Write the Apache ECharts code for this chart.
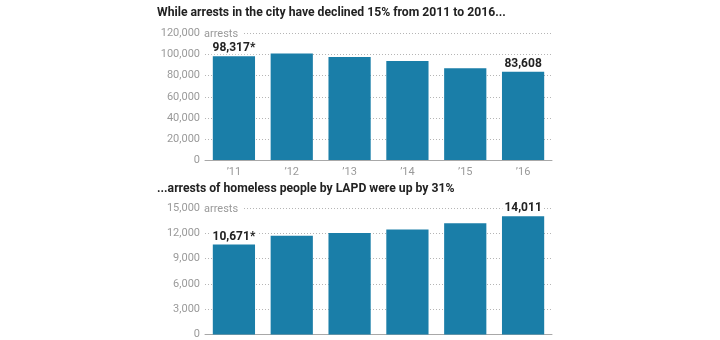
<!DOCTYPE html>
<html>
<head>
<meta charset="utf-8">
<style>
  html, body { margin: 0; padding: 0; background: #fff; }
  #chart { width: 720px; height: 340px; }
</style>
<script src="https://cdn.jsdelivr.net/npm/echarts@6/dist/echarts.min.js"></script>
</head>
<body>
<div id="chart"></div>
<script>
// Years shown on both panels
const years = ['’11', '’12', '’13', '’14', '’15', '’16'];

// Total arrests in the city
const cityArrests = [98317, 101000, 97700, 94000, 87000, 83608];
const cityLabels = ['98,317*', '', '', '', '', '83,608'];
const cityTicks = { min: 0, max: 120000, interval: 20000 };

// Arrests of homeless people by LAPD
const homelessArrests = [10671, 11700, 12050, 12450, 13200, 14011];
const homelessLabels = ['10,671*', '', '', '', '', '14,011'];
const homelessTicks = { min: 0, max: 15000, interval: 3000 };

const titles = [
  'While arrests in the city have declined 15% from 2011 to 2016...',
  '...arrests of homeless people by LAPD were up by 31%'
];
const unit = 'arrests';

const BAR = '#1a7ea8';
const GRAY = '#9a9a9a';
const INK = '#222';
const FONT = 'Roboto, "Liberation Sans", sans-serif';

function withLabels(values, labels) {
  return values.map((v, i) => labels[i]
    ? { value: v, label: { show: true, formatter: labels[i] } }
    : v);
}

function yAxisFor(ticks, gridIndex) {
  return {
    type: 'value',
    gridIndex,
    min: ticks.min,
    max: ticks.max,
    interval: ticks.interval,
    axisLine: { show: false },
    axisTick: { show: false },
    axisLabel: {
      color: GRAY, fontFamily: FONT, fontSize: 11, margin: 5,
      formatter: v => v.toLocaleString('en-US')
    },
    splitLine: { lineStyle: { color: '#b5b5b5', width: 1, type: [1, 2] } }
  };
}

function xAxisFor(gridIndex) {
  return {
    type: 'category',
    gridIndex,
    data: years,
    axisLine: { lineStyle: { color: '#a8a8a8', width: 1 } },
    axisTick: { show: false },
    axisLabel: { color: GRAY, fontFamily: FONT, fontSize: 11, margin: 7 }
  };
}

const barLabel = {
  show: false,
  position: 'top',
  distance: 2,
  color: INK,
  fontFamily: FONT,
  fontWeight: 'bold',
  fontSize: 12,
  backgroundColor: '#fff',
  padding: [0, 2, 0, 2]
};

const chart = echarts.init(document.getElementById('chart'), null, { renderer: 'canvas' });

chart.setOption({
  animation: false,
  backgroundColor: '#fff',
  title: titles.map((t, i) => ({
    text: t,
    left: 157,
    top: i === 0 ? 7 : 183,
    padding: 0,
    textStyle: { color: INK, fontFamily: FONT, fontWeight: 'bold', fontSize: 12.2 }
  })),
  grid: [
    { left: 205, right: 168, top: 33.5, height: 126.5, outerBoundsMode: 'none', containLabel: false },
    { left: 205, right: 168, top: 208, height: 126.5, outerBoundsMode: 'none', containLabel: false }
  ],
  xAxis: [xAxisFor(0), xAxisFor(1)],
  yAxis: [yAxisFor(cityTicks, 0), yAxisFor(homelessTicks, 1)],
  series: [
    {
      type: 'bar', xAxisIndex: 0, yAxisIndex: 0,
      barWidth: '73%',
      itemStyle: { color: BAR },
      label: barLabel,
      data: withLabels(cityArrests, cityLabels)
    },
    {
      type: 'bar', xAxisIndex: 1, yAxisIndex: 1,
      barWidth: '73%',
      itemStyle: { color: BAR },
      label: barLabel,
      data: withLabels(homelessArrests, homelessLabels)
    }
  ]
});

// Unit word next to the top tick of each panel, masking the dotted line behind it
const unitAnchors = [
  { yAxisIndex: 0, value: cityTicks.max },
  { yAxisIndex: 1, value: homelessTicks.max }
];
chart.setOption({
  graphic: unitAnchors.map(a => {
    const y = chart.convertToPixel({ yAxisIndex: a.yAxisIndex }, a.value);
    const x = chart.convertToPixel({ gridIndex: a.yAxisIndex }, [0, a.value])[0];
    return {
      type: 'text',
      z: 100,
      x: x - 28.9 - 1,
      y: y + 1,
      style: {
        text: unit,
        fill: GRAY,
        font: '11px ' + FONT,
        verticalAlign: 'middle',
        backgroundColor: '#fff',
        padding: [1, 4, 1, 0]
      }
    };
  })
});
</script>
</body>
</html>
